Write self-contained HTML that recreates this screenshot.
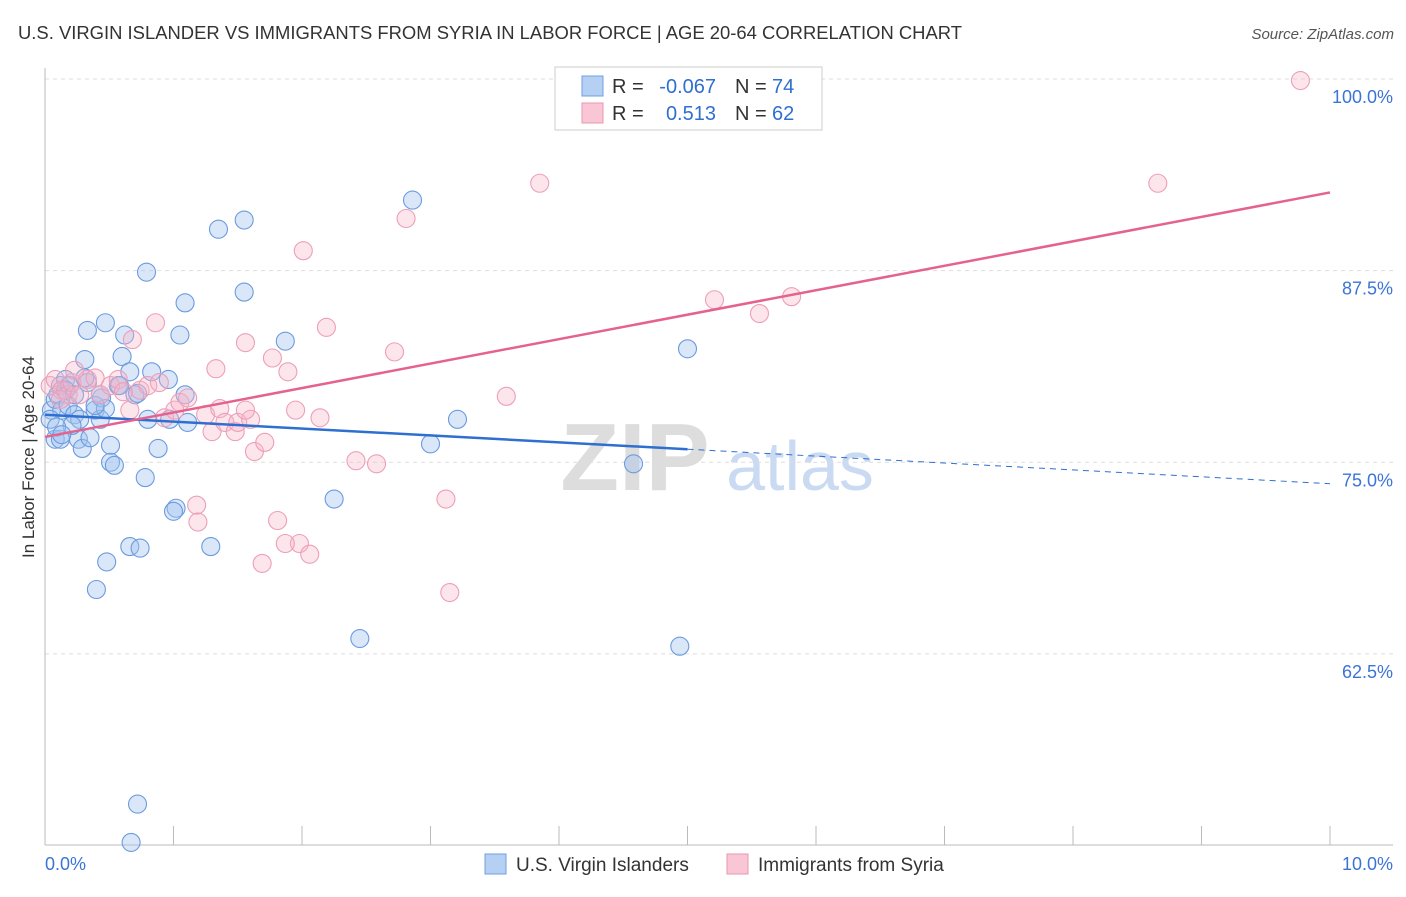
<!DOCTYPE html>
<html><head><meta charset="utf-8">
<style>
body{margin:0;background:#fff;font-family:"Liberation Sans",sans-serif;}
svg text{font-family:"Liberation Sans",sans-serif;}
</style></head>
<body>
<svg id="chart" width="1406" height="892" xmlns="http://www.w3.org/2000/svg">
<text x="18" y="39" font-size="18" fill="#333" textLength="944" lengthAdjust="spacingAndGlyphs">U.S. VIRGIN ISLANDER VS IMMIGRANTS FROM SYRIA IN LABOR FORCE | AGE 20-64 CORRELATION CHART</text>
<text x="1394" y="39" font-size="15" fill="#555" text-anchor="end" font-style="italic">Source: ZipAtlas.com</text>
<text transform="translate(34,457) rotate(-90)" font-size="17" fill="#333" text-anchor="middle">In Labor Force | Age 20-64</text>
<g>
<text x="635" y="490" font-size="96" font-weight="bold" fill="#ddd" text-anchor="middle" font-family="Liberation Serif">ZIP</text>
<text x="800" y="490" font-size="70" fill="#c9daf2" text-anchor="middle">atlas</text>
</g>
<g id="grid"></g><g id="axes"></g><g id="pts"></g><g id="trends"></g>
<g>
<rect x="555" y="67" width="267" height="63" fill="#fff" stroke="#ccc"/>
<rect x="582" y="76" width="21" height="20" fill="#b6d0f3" stroke="#6f9fe0"/>
<rect x="582" y="103" width="21" height="20" fill="#f9c6d5" stroke="#eb96b1"/>
<text x="612" y="93" font-size="20" fill="#333">R =</text>
<text x="716" y="93" font-size="20" fill="#2f6fd0" text-anchor="end">-0.067</text>
<text x="735" y="93" font-size="20" fill="#333">N =</text>
<text x="772" y="93" font-size="20" fill="#2f6fd0">74</text>
<text x="612" y="120" font-size="20" fill="#333">R =</text>
<text x="716" y="120" font-size="20" fill="#2f6fd0" text-anchor="end">0.513</text>
<text x="735" y="120" font-size="20" fill="#333">N =</text>
<text x="772" y="120" font-size="20" fill="#2f6fd0">62</text>
</g>
<g>
<rect x="485" y="854" width="21" height="20" fill="#b6d0f3" stroke="#6f9fe0"/>
<text x="516" y="871" font-size="19" fill="#333">U.S. Virgin Islanders</text>
<rect x="727" y="854" width="21" height="20" fill="#f9c6d5" stroke="#eb96b1"/>
<text x="758" y="871" font-size="19" fill="#333">Immigrants from Syria</text>
</g>
</svg>
<script>
const yTicks=[100,87.5,75,62.5];
const yTickLabels=["100.0%","87.5%","75.0%","62.5%"];
const xTickLabels=["0.0%","10.0%"];
const blueX=[.05,.08,.12,.10,.16,.19,.13,.18,.23,.27,.26,.29,.21,.35,.39,.43,.44,.47,.33,.31,.51,.51,.54,.31,.33,.47,.60,.62,.66,.57,.70,.72,.80,.83,.96,.88,.78,.79,1.09,1.05,.97,1.09,1.11,1.35,1.55,1.55,1.87,1.02,1.00,.40,.48,.66,.74,1.29,2.25,2.45,2.86,3.00,3.21,4.58,5.00,4.94,.72,.67,.04,.08,.12,.09,.16,.23,.58,.39,.43,.13];
const blueY=[78.4,79.1,80.0,79.4,80.4,80.0,78.4,78.7,78.1,77.8,76.5,75.9,77.4,76.6,78.4,77.8,79.2,78.5,80.2,80.5,76.1,75.0,74.8,81.7,83.6,84.1,81.9,83.3,80.9,80.0,79.4,79.5,77.8,80.9,80.4,75.9,74.0,87.4,85.4,83.3,77.8,79.4,77.6,90.2,90.8,86.1,82.9,72.0,71.8,66.7,68.5,69.5,69.4,69.5,72.6,63.5,92.1,76.2,77.8,74.9,82.4,63.0,52.7,50.2,77.8,76.5,76.5,77.3,79.7,79.4,80.0,78.7,79.4,76.8];
const pinkX=[.04,.08,.13,.18,.21,.27,.33,.39,.43,.51,.57,.61,.66,.68,.74,.80,.86,.89,.93,1.01,1.05,1.11,1.25,1.30,1.33,1.36,1.40,1.48,1.50,1.56,1.60,1.63,1.71,1.77,1.89,1.95,1.98,2.01,2.06,2.14,2.19,2.42,2.58,2.72,2.81,3.12,3.15,3.59,3.85,5.21,5.56,5.81,8.66,9.77,1.18,1.19,1.81,1.87,1.69,1.56,.12,.23];
const pinkY=[80.0,80.4,79.7,79.4,80.2,79.4,80.4,80.5,79.4,80.0,80.4,79.6,78.4,83.0,79.7,80.0,84.1,80.2,77.9,78.4,78.9,79.2,78.1,77.0,81.1,78.5,77.6,77.0,77.6,82.8,77.8,75.7,76.3,81.8,80.9,78.4,69.7,88.8,69.0,77.9,83.8,75.1,74.9,82.2,90.9,72.6,66.5,79.3,93.2,85.6,84.7,85.8,93.2,99.9,72.2,71.1,71.2,69.7,68.4,78.4,79.1,81.0];
const blueTrend=[78.1,73.6];
const pinkTrend=[76.65,92.6];
const blueSolidEnd=5.0;

const NS="http://www.w3.org/2000/svg";
const sx=v=>45+v*128.5;
const sy=v=>79+(100-v)*15.33;
function mk(tag,attrs,parent){const e=document.createElementNS(NS,tag);for(const k in attrs)e.setAttribute(k,attrs[k]);document.getElementById(parent).appendChild(e);return e;}

yTicks.forEach((t,i)=>{
  const l=mk('line',{x1:45,x2:1393,y1:sy(t),y2:sy(t),stroke:'#ddd','stroke-dasharray':'4,4'},'grid');
  
  
  const tx=mk('text',{x:1393,y:sy(t)+24,'font-size':18,fill:'#3b74d6','text-anchor':'end'},'grid');
  tx.textContent=yTickLabels[i];
  
  
});
const ax=mk('line',{x1:45,x2:45,y1:68,y2:845,stroke:'#bbb'},'axes');


const bx=mk('line',{x1:45,x2:1393,y1:845,y2:845,stroke:'#bbb'},'axes');


for(let i=0;i<=10;i++){
  const t=mk('line',{x1:sx(i),x2:sx(i),y1:826,y2:845,stroke:'#bbb'},'axes');
  
  
}
[[0,'start'],[10,'end']].forEach((p,i)=>{
  const t=mk('text',{x:sx(p[0])+(i?63:0),y:870,'font-size':18,fill:'#3b74d6','text-anchor':p[1]},'axes');
  t.textContent=xTickLabels[i];
  
  
});
blueX.forEach((x,i)=>{
  const c=mk('circle',{cx:sx(x),cy:sy(blueY[i]),r:9,fill:'rgba(160,196,240,0.4)',stroke:'#6b9bde','stroke-width':1.1},'pts');
  
  
});
pinkX.forEach((x,i)=>{
  const c=mk('circle',{cx:sx(x),cy:sy(pinkY[i]),r:9,fill:'rgba(248,180,200,0.35)',stroke:'#ec9fb8','stroke-width':1.1},'pts');
  
  
});
const by=x=>blueTrend[0]+(blueTrend[1]-blueTrend[0])*x/10;
const b1=mk('line',{x1:sx(0),y1:sy(by(0)),x2:sx(blueSolidEnd),y2:sy(by(blueSolidEnd)),stroke:'#2f6fd0','stroke-width':2.5},'trends');


const b2=mk('line',{x1:sx(blueSolidEnd),y1:sy(by(blueSolidEnd)),x2:sx(10),y2:sy(by(10)),stroke:'#2f6fd0','stroke-width':1,'stroke-dasharray':'6,5'},'trends');


const p1=mk('line',{x1:sx(0),y1:sy(pinkTrend[0]),x2:sx(10),y2:sy(pinkTrend[1]),stroke:'#e5628f','stroke-width':2.5},'trends');


</script>
</body></html>
